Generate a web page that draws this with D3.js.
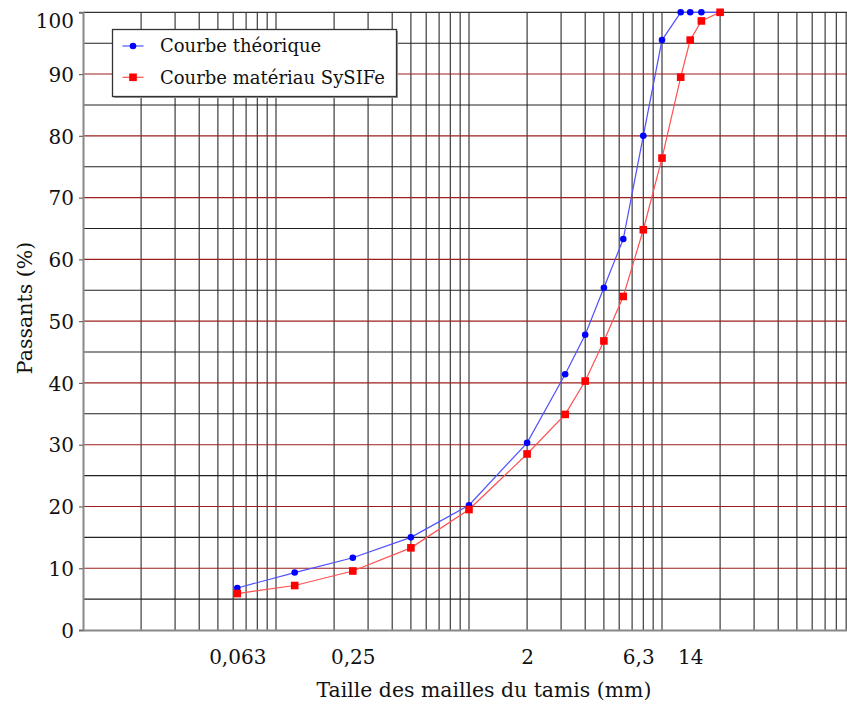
<!DOCTYPE html>
<html>
<head>
<meta charset="utf-8">
<script src="https://cdn.jsdelivr.net/npm/d3@7"></script>
<style>
  html, body { margin: 0; padding: 0; background: #fff; }
  svg { display: block; }
  text { font-family: "DejaVu Serif", "Liberation Serif", serif; fill: #111; }
</style>
</head>
<body>
<svg id="chart" width="847" height="704"></svg>
<script>
// ---- data ----
const sieves = [0.063, 0.125, 0.25, 0.5, 1, 2, 3.15, 4, 5, 6.3, 8, 10, 12.5, 14, 16, 20];
const courbeTheorique = [6.8, 9.3, 11.7, 15.0, 20.2, 30.3, 41.4, 47.8, 55.4, 63.3, 80.0, 95.5, 100, 100, 100, 100];
const courbeSysife = [5.9, 7.2, 9.55, 13.3, 19.5, 28.5, 34.9, 40.3, 46.8, 54.0, 64.8, 76.4, 89.5, 95.5, 98.6, 100];
const seriesNames = ["Courbe théorique", "Courbe matériau SySIFe"];
const xTickValues = [0.063, 0.25, 2, 6.3, 14];
const xTickLabels = ["0,063", "0,25", "2", "6,3", "14"];
const yTickValues = [0, 10, 20, 30, 40, 50, 60, 70, 80, 90, 100];
const xTitle = "Taille des mailles du tamis (mm)";
const yTitle = "Passants (%)";

// ---- layout ----
const svg = d3.select("#chart");
const x = d3.scaleLog().domain([0.01, 100]).range([83, 855]);
const y = d3.scaleLinear().domain([0, 100]).range([630, 12.3]);

// grid: vertical log lines
const vLines = [];
for (let d = -2; d <= 1; d++) {
  for (let k = 1; k <= 9; k++) {
    const v = k * Math.pow(10, d);
    if (v > 0.01) vLines.push(v);
  }
}
vLines.push(100);

const grid = svg.append("g");
grid.selectAll("line.v").data(vLines).join("line")
  .attr("x1", d => x(d)).attr("x2", d => x(d))
  .attr("y1", y(0)).attr("y2", y(100))
  .attr("stroke", "#2a2a2a").attr("stroke-width", 1.1);

// horizontal lines every 5
const hLines = d3.range(5, 100, 5);
grid.selectAll("line.h").data(hLines).join("line")
  .attr("x1", x(0.01)).attr("x2", 847)
  .attr("y1", d => y(d)).attr("y2", d => y(d))
  .attr("stroke", d => d % 10 === 0 ? "#9a1f1f" : "#222")
  .attr("stroke-width", 1.1);
// top border
grid.append("line")
  .attr("x1", x(0.01)).attr("x2", 847)
  .attr("y1", y(100)).attr("y2", y(100))
  .attr("stroke", "#333").attr("stroke-width", 1.3);

// axes
const yAxis = svg.append("g")
  .attr("transform", `translate(${x(0.01)},0)`)
  .call(d3.axisLeft(y).tickValues(yTickValues).tickSize(4).tickPadding(5).tickFormat(d3.format("d")));
yAxis.select(".domain").attr("stroke", "#888").attr("stroke-width", 2);
yAxis.selectAll(".tick line").attr("stroke", "#666").attr("stroke-width", 1.2);
yAxis.selectAll(".tick text")
  .style("font-size", "20px")
  .attr("dy", d => d === 100 ? "0.78em" : "0.36em")
  .attr("fill", "#111");

const xAxis = svg.append("g")
  .attr("transform", `translate(0,${y(0)})`)
  .call(d3.axisBottom(x).tickValues(xTickValues).tickSize(0).tickPadding(20)
    .tickFormat((d, i) => xTickLabels[i]));
xAxis.select(".domain").attr("stroke", "#888").attr("stroke-width", 2);
xAxis.selectAll(".tick text")
  .style("font-size", "20px")
  .attr("dx", d => d === 6.3 ? 15 : 0)
  .attr("fill", "#111");

// titles
svg.append("text")
  .attr("x", 484).attr("y", 697)
  .attr("text-anchor", "middle")
  .style("font-size", "20.4px")
  .text(xTitle);
svg.append("text")
  .attr("transform", "translate(32,308) rotate(-90)")
  .attr("text-anchor", "middle")
  .style("font-size", "20.5px")
  .text(yTitle);

// series
const blue = sieves.map((s, i) => [s, courbeTheorique[i]]);
const red = sieves.map((s, i) => [s, courbeSysife[i]]);
const line = d3.line().x(d => x(d[0])).y(d => y(d[1]));

svg.append("path").datum(red).attr("d", line)
  .attr("fill", "none").attr("stroke", "#ff5050").attr("stroke-width", 1.2);
svg.append("path").datum(blue).attr("d", line)
  .attr("fill", "none").attr("stroke", "#4f4fff").attr("stroke-width", 1.2);

svg.append("g").selectAll("circle").data(blue).join("circle")
  .attr("cx", d => x(d[0])).attr("cy", d => y(d[1])).attr("r", 3.3)
  .attr("fill", "#0000ff");
svg.append("g").selectAll("rect").data(red).join("rect")
  .attr("x", d => x(d[0]) - 3.8).attr("y", d => y(d[1]) - 3.8)
  .attr("width", 7.6).attr("height", 7.6)
  .attr("fill", "#ff0000");

// legend
const lg = svg.append("g");
lg.append("rect").attr("x", 114).attr("y", 31).attr("width", 284).attr("height", 67)
  .attr("fill", "#999");
lg.append("rect").attr("x", 112.5).attr("y", 29.5).attr("width", 284).attr("height", 67)
  .attr("fill", "#fff").attr("stroke", "#333").attr("stroke-width", 1.3);
const colors = ["#0000ff", "#ff0000"];
const lineColors = ["#4f4fff", "#ff5050"];
seriesNames.forEach((name, i) => {
  const cy = 46 + i * 31.3;
  lg.append("line").attr("x1", 122.5).attr("x2", 143.5).attr("y1", cy).attr("y2", cy)
    .attr("stroke", lineColors[i]).attr("stroke-width", 1.2);
  if (i === 0) {
    lg.append("circle").attr("cx", 133).attr("cy", cy).attr("r", 3.3).attr("fill", colors[i]);
  } else {
    lg.append("rect").attr("x", 133 - 3.8).attr("y", cy - 3.8).attr("width", 7.6).attr("height", 7.6)
      .attr("fill", colors[i]);
  }
  lg.append("text").attr("x", 160).attr("y", cy).attr("dy", "0.35em")
    .style("font-size", "18px").text(name);
});
</script>
</body>
</html>
